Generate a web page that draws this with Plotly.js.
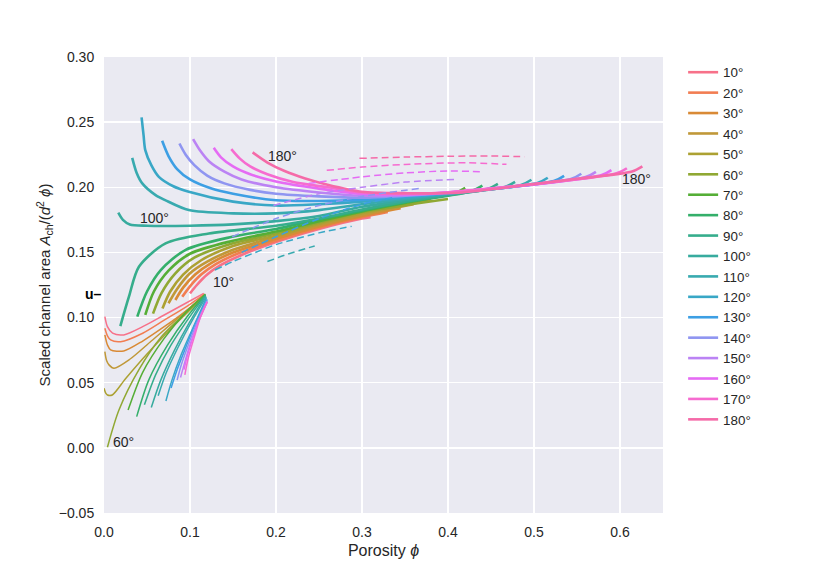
<!DOCTYPE html>
<html>
<head>
<meta charset="utf-8">
<script src="https://cdn.plot.ly/plotly-3.0.1.min.js"></script>
<style>
  body { margin: 0; background: white; }
  #chart { width: 830px; height: 571px; }
</style>
</head>
<body>
<div id="chart"></div>
<script>
// dihedral angles and their colours (husl-like palette)
var angles = [10, 20, 30, 40, 50, 60, 70, 80, 90, 100, 110, 120, 130, 140, 150, 160, 170, 180];
var colors = ['#f77189', '#f27d52', '#d98a36', '#c09838', '#aca132', '#90a833', '#55ae36', '#34af6a', '#36ad8c',
              '#37ab9e', '#38aaaf', '#39a7c6', '#3d9fe4', '#8f95f1', '#bb83f4', '#e56bf4', '#f66bd0', '#f56aa8'];

// lower (thin) branches, one row per angle
var lowPhi = [
  [0.001, 0.004, 0.01, 0.023, 0.045, 0.07, 0.095, 0.116],
  [0.001, 0.004, 0.0077, 0.0194, 0.045, 0.07, 0.095, 0.117],
  [0.001, 0.004, 0.0077, 0.023, 0.045, 0.07, 0.095, 0.117],
  [0.001, 0.003, 0.0058, 0.0116, 0.03, 0.055, 0.085, 0.118],
  [0.0, 0.002, 0.004, 0.0096, 0.025, 0.05, 0.08, 0.118],
  [0.004, 0.0174, 0.0406, 0.067, 0.099, 0.118],
  [0.028, 0.045, 0.07, 0.095, 0.118],
  [0.038, 0.052, 0.074, 0.097, 0.118],
  [0.047, 0.06, 0.078, 0.099, 0.118],
  [0.055, 0.066, 0.082, 0.1, 0.118],
  [0.063, 0.072, 0.086, 0.102, 0.119],
  [0.072, 0.079, 0.09, 0.104, 0.119],
  [0.078, 0.085, 0.095, 0.106, 0.12],
  [0.085, 0.09, 0.098, 0.108, 0.12],
  [0.089, 0.094, 0.101, 0.11, 0.12],
  [0.093, 0.097, 0.103, 0.111, 0.12],
  [0.094, 0.098, 0.105, 0.112, 0.12],
  []
];
var lowArea = [
  [0.1007, 0.093, 0.088, 0.0867, 0.093, 0.102, 0.111, 0.1186],
  [0.0918, 0.086, 0.0828, 0.0815, 0.088, 0.098, 0.108, 0.118],
  [0.0867, 0.079, 0.0752, 0.0744, 0.082, 0.093, 0.105, 0.1175],
  [0.0739, 0.067, 0.0637, 0.0611, 0.068, 0.082, 0.099, 0.117],
  [0.0457, 0.042, 0.0406, 0.0406, 0.053, 0.072, 0.093, 0.117],
  [0.0005, 0.029, 0.06, 0.0854, 0.106, 0.1173],
  [0.029, 0.058, 0.084, 0.104, 0.118],
  [0.024, 0.052, 0.079, 0.101, 0.1175],
  [0.033, 0.056, 0.079, 0.1, 0.117],
  [0.031, 0.052, 0.075, 0.097, 0.1165],
  [0.04, 0.057, 0.077, 0.097, 0.116],
  [0.036, 0.052, 0.072, 0.093, 0.115],
  [0.046, 0.06, 0.077, 0.095, 0.114],
  [0.052, 0.064, 0.079, 0.096, 0.113],
  [0.054, 0.066, 0.081, 0.097, 0.112],
  [0.06, 0.071, 0.084, 0.099, 0.112],
  [0.056, 0.069, 0.085, 0.1, 0.112],
  []
];

// upper (thick) branches
var upPhi = [
  [0.1, 0.108, 0.12, 0.135, 0.16, 0.2, 0.25, 0.3, 0.31],
  [0.091, 0.1, 0.113, 0.13, 0.155, 0.2, 0.25, 0.3, 0.33],
  [0.083, 0.092, 0.106, 0.125, 0.15, 0.2, 0.25, 0.3, 0.345],
  [0.075, 0.085, 0.1, 0.12, 0.15, 0.2, 0.25, 0.3, 0.36],
  [0.068, 0.077, 0.092, 0.113, 0.15, 0.2, 0.25, 0.3, 0.38],
  [0.057, 0.067, 0.083, 0.105, 0.15, 0.2, 0.25, 0.3, 0.4],
  [0.048, 0.058, 0.075, 0.1, 0.15, 0.2, 0.25, 0.3, 0.35, 0.408, 0.42],
  [0.0387, 0.05, 0.066, 0.095, 0.149, 0.2, 0.25, 0.3, 0.35, 0.4, 0.428, 0.44],
  [0.019, 0.029, 0.0406, 0.0716, 0.122, 0.2, 0.25, 0.3, 0.35, 0.4, 0.446, 0.458],
  [0.0166, 0.022, 0.03, 0.05, 0.1, 0.15, 0.2, 0.25, 0.3, 0.35, 0.4, 0.466, 0.478],
  [0.0328, 0.038, 0.0445, 0.06, 0.0716, 0.0986, 0.15, 0.2, 0.25, 0.3, 0.35, 0.4, 0.485, 0.497],
  [0.0437, 0.046, 0.048, 0.055, 0.0638, 0.08, 0.0986, 0.15, 0.2, 0.25, 0.3, 0.35, 0.4, 0.504, 0.516],
  [0.0676, 0.075, 0.085, 0.1, 0.125, 0.15, 0.2, 0.25, 0.3, 0.35, 0.4, 0.523, 0.535],
  [0.0877, 0.095, 0.105, 0.12, 0.14, 0.17, 0.2, 0.25, 0.3, 0.35, 0.4, 0.543, 0.555],
  [0.1036, 0.112, 0.122, 0.14, 0.16, 0.2, 0.25, 0.3, 0.35, 0.4, 0.56, 0.572],
  [0.1276, 0.136, 0.15, 0.17, 0.2, 0.25, 0.3, 0.35, 0.4, 0.578, 0.59],
  [0.148, 0.158, 0.17, 0.19, 0.22, 0.26, 0.3, 0.35, 0.4, 0.596, 0.608],
  [0.1728, 0.19, 0.21, 0.234, 0.26, 0.3, 0.35, 0.412, 0.5, 0.55, 0.614, 0.626]
];
var upArea = [
  [0.1186, 0.125, 0.133, 0.14, 0.148, 0.158, 0.168, 0.176, 0.177],
  [0.116, 0.124, 0.133, 0.141, 0.149, 0.159, 0.169, 0.177, 0.181],
  [0.1135, 0.123, 0.133, 0.142, 0.15, 0.1605, 0.17, 0.178, 0.184],
  [0.111, 0.122, 0.134, 0.143, 0.152, 0.162, 0.171, 0.179, 0.187],
  [0.107, 0.12, 0.133, 0.144, 0.155, 0.163, 0.172, 0.18, 0.19],
  [0.103, 0.119, 0.134, 0.146, 0.157, 0.1645, 0.173, 0.181, 0.191],
  [0.102, 0.12, 0.136, 0.149, 0.159, 0.166, 0.174, 0.1815, 0.188, 0.1956, 0.1996],
  [0.1007, 0.12, 0.1365, 0.152, 0.162, 0.168, 0.1755, 0.182, 0.1885, 0.1935, 0.1972, 0.2012],
  [0.0935, 0.116, 0.139, 0.157, 0.1646, 0.1705, 0.176, 0.183, 0.189, 0.194, 0.1987, 0.2026],
  [0.1805, 0.175, 0.1715, 0.1705, 0.1705, 0.1715, 0.174, 0.178, 0.185, 0.19, 0.1945, 0.2003, 0.2042],
  [0.2226, 0.211, 0.203, 0.194, 0.19, 0.1825, 0.18, 0.18, 0.1825, 0.187, 0.191, 0.195, 0.2018, 0.2058],
  [0.2536, 0.24, 0.2285, 0.217, 0.208, 0.201, 0.1966, 0.189, 0.186, 0.187, 0.189, 0.192, 0.1953, 0.2033, 0.2073],
  [0.2357, 0.224, 0.214, 0.206, 0.199, 0.195, 0.19, 0.1895, 0.1905, 0.193, 0.1955, 0.2048, 0.2088],
  [0.2336, 0.225, 0.217, 0.209, 0.203, 0.198, 0.195, 0.193, 0.192, 0.1935, 0.1958, 0.2064, 0.2104],
  [0.237, 0.228, 0.22, 0.212, 0.206, 0.2, 0.196, 0.1935, 0.194, 0.196, 0.2078, 0.2118],
  [0.2303, 0.223, 0.216, 0.21, 0.2045, 0.199, 0.195, 0.1945, 0.196, 0.2092, 0.2132],
  [0.2293, 0.222, 0.216, 0.21, 0.204, 0.2, 0.196, 0.195, 0.1962, 0.2107, 0.2146],
  [0.2268, 0.219, 0.2125, 0.2068, 0.202, 0.1966, 0.1955, 0.1958, 0.2025, 0.2065, 0.2121, 0.2161]
];

// dashed branches
var dashAngles = [110, 120, 130, 140, 150, 160, 170, 180];
var dashPhi = [
  [0.19, 0.215, 0.245],
  [0.129, 0.15, 0.176, 0.2, 0.25, 0.288],
  [0.16, 0.2, 0.25, 0.3, 0.335],
  [0.149, 0.2, 0.25, 0.3, 0.366],
  [0.197, 0.25, 0.3, 0.35, 0.408],
  [0.238, 0.3, 0.35, 0.4, 0.437],
  [0.259, 0.3, 0.35, 0.42, 0.468],
  [0.297, 0.35, 0.4, 0.45, 0.489]
];
var dashArea = [
  [0.143, 0.149, 0.155],
  [0.1365, 0.143, 0.15, 0.156, 0.165, 0.17],
  [0.15, 0.162, 0.176, 0.187, 0.192],
  [0.162, 0.176, 0.186, 0.193, 0.199],
  [0.186, 0.195, 0.2, 0.204, 0.206],
  [0.203, 0.208, 0.211, 0.2125, 0.212],
  [0.213, 0.2155, 0.2175, 0.2188, 0.2176],
  [0.2222, 0.2232, 0.2238, 0.224, 0.2235]
];

// text labels on the curves
var noteText = ['10°', '10°', '100°', '180°', '180°', '60°'];
var notePhi = [-0.0116, 0.124, 0.0394, 0.188, 0.6, 0.0081];
var noteArea = [0.1074, 0.1273, 0.1764, 0.224, 0.2063, 0.0046];

var font = 'Liberation Sans, Arial, sans-serif';
var ink = '#262626';

var traces = [];
for (var i = 0; i < angles.length; i++) {
  if (lowPhi[i].length) {
    traces.push({x: lowPhi[i], y: lowArea[i], mode: 'lines', showlegend: false, hoverinfo: 'skip',
                 line: {color: colors[i], width: 1.5, shape: 'spline', smoothing: 0.8}});
  }
}
for (var i = 0; i < angles.length; i++) {
  traces.push({x: upPhi[i], y: upArea[i], mode: 'lines', name: angles[i] + '°',
               line: {color: colors[i], width: 2.6, shape: 'spline', smoothing: 0.8}});
}
for (var j = 0; j < dashAngles.length; j++) {
  var c = colors[angles.indexOf(dashAngles[j])];
  traces.push({x: dashPhi[j], y: dashArea[j], mode: 'lines', showlegend: false, hoverinfo: 'skip',
               line: {color: c, width: 1.5, dash: '7px,4px', shape: 'spline', smoothing: 0.8}});
}

var notes = [];
for (var k = 0; k < noteText.length; k++) {
  notes.push({x: notePhi[k], y: noteArea[k], text: noteText[k], showarrow: false,
              xanchor: 'left', yanchor: 'middle', font: {family: font, size: 14, color: ink}});
}
notes.push({x: 0, y: 0.118, text: '<b>u–</b>', showarrow: false, xanchor: 'right', yanchor: 'middle',
            font: {family: font, size: 14, color: '#000'}});

var layout = {
  width: 830, height: 571,
  margin: {l: 104, r: 167, t: 57, b: 58},
  paper_bgcolor: 'white',
  plot_bgcolor: '#eaeaf2',
  font: {family: font, size: 13, color: ink},
  showlegend: true,
  legend: {x: 1.036, y: 1.0, xanchor: 'left', yanchor: 'top', bgcolor: 'rgba(0,0,0,0)',
           maxheight: 0.95, font: {family: font, size: 13.4, color: ink}},
  xaxis: {range: [0, 0.65], dtick: 0.1, tick0: 0, tickformat: '.1f',
          gridcolor: 'white', gridwidth: 1.5, zeroline: false, showline: false,
          ticks: 'outside', ticklen: 6, tickcolor: 'rgba(0,0,0,0)',
          tickfont: {family: font, size: 14, color: ink},
          title: {text: 'Porosity <i>ϕ</i>', standoff: 6, font: {family: font, size: 16, color: ink}}},
  yaxis: {range: [-0.05, 0.30], dtick: 0.05, tick0: 0, tickformat: '.2f',
          gridcolor: 'white', gridwidth: 1.5, zeroline: false, showline: false,
          ticks: 'outside', ticklen: 6, tickcolor: 'rgba(0,0,0,0)',
          tickfont: {family: font, size: 14, color: ink},
          title: {text: 'Scaled channel area <i>A</i><sub>ch</sub>/(<i>d</i><sup>2</sup> <i>ϕ</i>)',
                  standoff: 4, font: {family: font, size: 15, color: ink}}},
  annotations: notes
};

Plotly.newPlot('chart', traces, layout, {displayModeBar: false, staticPlot: true});
</script>
</body>
</html>
